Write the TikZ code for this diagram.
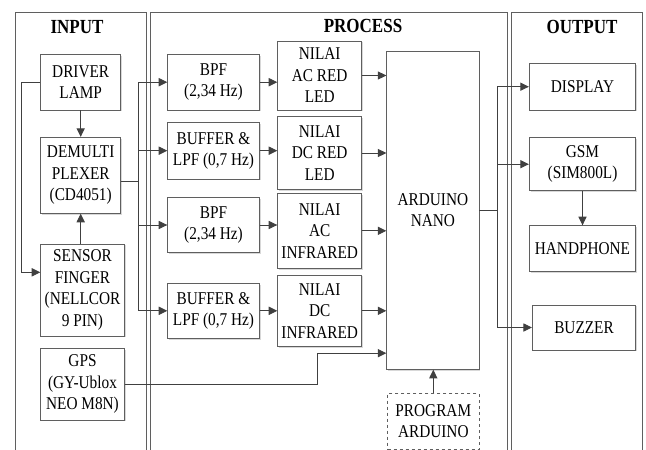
\documentclass[tikz,border=0pt]{standalone}
\usepackage{fontspec}
\setmainfont[FakeStretch=0.85]{Liberation Serif}
\usetikzlibrary{arrows.meta, calc, shadows}
\definecolor{linegray}{RGB}{64,64,64}
\definecolor{boxgray}{RGB}{95,95,95}

\begin{document}
\begin{tikzpicture}[x=1pt, y=-1pt,
  PN/.style={draw=boxgray, line width=0.9pt},
  BX/.style={draw=boxgray, fill=white, line width=0.8pt, align=center, inner sep=1pt,
             font=\fontsize{18}{21.5}\selectfont,
             drop shadow={shadow xshift=1.3pt, shadow yshift=-1.3pt, fill=black!30, opacity=0.5}},
  DB/.style={draw=boxgray, fill=white, line width=0.8pt, dashed, align=center, inner sep=1pt,
             font=\fontsize{18}{21.5}\selectfont},
  TT/.style={font=\fontsize{20}{22}\selectfont\bfseries},
  AR/.style={-{Triangle[length=8.6pt,width=8.2pt]}, line width=0.9pt, linegray},
  LN/.style={line width=0.9pt, linegray}
]
  \useasboundingbox (0,0) rectangle (646,450);

  % panels
  \draw[PN] (15,450) |- (146,12.7) -- (146,450);
  \draw[PN] (150.7,450) |- (507.7,12) -- (507.7,450);
  \draw[PN] (511.7,450) |- (642.7,12) -- (642.7,450);
  \node[TT] (tin)  at (77,27)  {INPUT};
  \node[TT] (tpr)  at (363,26) {PROCESS};
  \node[TT] (tout) at (582,27) {OUTPUT};

  % input
  \node[BX, minimum width=80pt, minimum height=55.7pt] (lamp)   at (80.7,82.2)  {DRIVER\\LAMP};
  \node[BX, minimum width=80pt, minimum height=76pt]   (demux)  at (80.7,175.3) {DEMULTI\\PLEXER\\(CD4051)};
  \node[BX, minimum width=83.6pt, minimum height=92pt] (sensor) at (82.5,290)   {SENSOR\\FINGER\\(NELLCOR\\9 PIN)};
  \node[BX, minimum width=83.6pt, minimum height=71.7pt] (gps)  at (82.5,384.2) {GPS\\(GY-Ublox\\NEO M8N)};

  % process
  \node[BX, minimum width=91.6pt, minimum height=55.7pt] (bpfa) at (213.5,82.2)  {BPF\\(2,34 Hz)};
  \node[BX, minimum width=91.6pt, minimum height=56.7pt] (bufa) at (213.5,150.7) {BUFFER \&\\LPF (0,7 Hz)};
  \node[BX, minimum width=91.6pt, minimum height=55.4pt] (bpfb) at (213.5,225)   {BPF\\(2,34 Hz)};
  \node[BX, minimum width=91.6pt, minimum height=55pt]   (bufb) at (213.5,310.8) {BUFFER \&\\LPF (0,7 Hz)};

  \node[BX, minimum width=84pt, minimum height=69pt]   (nila) at (319.7,75.5)  {NILAI\\AC RED\\LED};
  \node[BX, minimum width=84pt, minimum height=72.6pt] (nilb) at (319.7,153)   {NILAI\\DC RED\\LED};
  \node[BX, minimum width=84pt, minimum height=75pt]   (nilc) at (319.7,230.8) {NILAI\\AC\\INFRARED};
  \node[BX, minimum width=84pt, minimum height=71.7pt] (nild) at (319.7,310.8) {NILAI\\DC\\INFRARED};

  \node[BX, minimum width=92.3pt, minimum height=318.3pt] (ard) at (432.9,210.2) {ARDUINO\\NANO};
  \node[DB, minimum width=91.3pt, minimum height=56pt] (prog) at (433.3,421.3) {PROGRAM\\ARDUINO};

  % output
  \node[BX, minimum width=106.4pt, minimum height=46.7pt] (disp) at (582.5,86.7)  {DISPLAY};
  \node[BX, minimum width=106.4pt, minimum height=53pt]   (gsm)  at (582.5,164.2) {GSM\\(SIM800L)};
  \node[BX, minimum width=106.4pt, minimum height=46pt]   (hp)   at (582.5,248.7) {HANDPHONE};
  \node[BX, minimum width=103.4pt, minimum height=45pt]   (buzz) at (584,327.5)   {BUZZER};

  % connectors
  \draw[AR] (lamp) -- (demux);
  \draw[AR] (demux.south |- sensor.north) -- (demux.south);
  \draw[AR] (lamp.west) -- ++(-19,0) |- ([yshift=17.7pt]sensor.west);

  \draw[LN] ([yshift=-6.4pt]demux.east) -- ++(17,0) coordinate (bj);
  \draw[LN] (bj |- bpfa) -- (bj |- bufb);
  \foreach \f in {bpfa,bufa,bpfb,bufb} \draw[AR] (bj |- \f) -- (\f.west);

  \foreach \a/\b in {bpfa/nila,bufa/nilb,bpfb/nilc,bufb/nild} \draw[AR] (\a.east) -- (\a.east -| \b.west);
  \foreach \a in {nila,nilb,nilc,nild} \draw[AR] (\a.east) -- (\a.east -| ard.west);

  \draw[AR] (gps.east) -- ++(193,0) |- ([yshift=16.6pt]ard.south west);
  \draw[AR] (prog.north) -- (prog.north |- ard.south);

  \draw[LN] (ard.east) -- ++(17.7,0) coordinate (oj);
  \draw[LN] (oj |- disp) -- (oj |- buzz);
  \foreach \o in {disp,gsm,buzz} \draw[AR] (oj |- \o) -- (\o.west);
  \draw[AR] (gsm) -- (hp);
\end{tikzpicture}
\end{document}
